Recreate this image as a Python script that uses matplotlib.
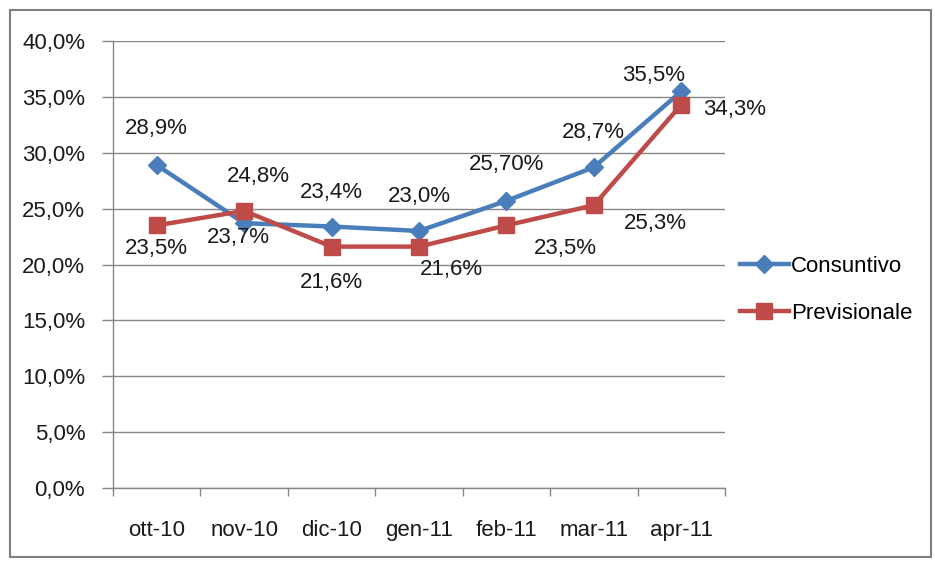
import matplotlib
matplotlib.use("Agg")
import matplotlib.pyplot as plt
from matplotlib.patches import Rectangle
from matplotlib.ticker import FuncFormatter, FixedLocator

plt.rcParams['font.family'] = ['Liberation Sans', 'DejaVu Sans']

# Data
months = ['ott-10', 'nov-10', 'dic-10', 'gen-11', 'feb-11', 'mar-11', 'apr-11']
consuntivo = [28.9, 23.7, 23.4, 23.0, 25.7, 28.7, 35.5]
previsionale = [23.5, 24.8, 21.6, 21.6, 23.5, 25.3, 34.3]
cons_labels = ['28,9%', '23,7%', '23,4%', '23,0%', '25,70%', '28,7%', '35,5%']
prev_labels = ['23,5%', '24,8%', '21,6%', '21,6%', '23,5%', '25,3%', '34,3%']

# label offsets in pixels (dx, dy), Excel-style placement
cons_off = [(0, 37), (-6, -14), (0, 34), (0, 34), (0, 36), (0, 35), (-28, 16)]
prev_off = [(0, -23), (14, 34), (0, -36), (32, -23), (59, -23), (62, -18), (53, -5)]

blue = '#4A7EBB'
red = '#BE4B48'
grid_c = '#868686'
text_c = '#1a1a1a'
fs = 16

fig = plt.figure(figsize=(9.35, 5.65), dpi=100)
ax = fig.add_axes([113 / 935, 1 - 488 / 565, (725 - 113) / 935, (488 - 41) / 565])

x = list(range(len(months)))
ax.plot(x, consuntivo, color=blue, lw=3.2, marker='D', ms=9, mfc=blue, mec=blue,
        label='Consuntivo', zorder=4)
ax.plot(x, previsionale, color=red, lw=3.2, marker='s', ms=12, mfc=red, mec=red,
        label='Previsionale', zorder=5)

for xi, v, t, (dx, dy) in zip(x, consuntivo, cons_labels, cons_off):
    ax.annotate(t, (xi, v), xytext=(dx, dy), textcoords='offset pixels',
                ha='center', va='center', fontsize=fs, color=text_c, zorder=6)
for xi, v, t, (dx, dy) in zip(x, previsionale, prev_labels, prev_off):
    ax.annotate(t, (xi, v), xytext=(dx, dy), textcoords='offset pixels',
                ha='center', va='center', fontsize=fs, color=text_c, zorder=6)

ax.set_xlim(-0.5, len(months) - 0.5)
ax.set_ylim(0, 40)
ax.set_yticks([0, 5, 10, 15, 20, 25, 30, 35, 40])
ax.yaxis.set_major_formatter(FuncFormatter(lambda v, p: f'{v:.1f}%'.replace('.', ',')))
ax.set_xticks(x)
ax.set_xticklabels(months)
ax.xaxis.set_minor_locator(FixedLocator([i - 0.5 for i in range(len(months) + 1)]))

ax.tick_params(axis='x', which='major', length=0, pad=23, labelsize=fs, labelcolor=text_c)
ax.tick_params(axis='x', which='minor', length=6, width=1, color=grid_c, direction='out')
ax.tick_params(axis='y', length=8, width=1, color=grid_c, pad=12, labelsize=fs,
               labelcolor=text_c)

ax.grid(axis='y', color=grid_c, lw=1)
ax.set_axisbelow(True)
for s in ['top', 'right']:
    ax.spines[s].set_visible(False)
for s in ['left', 'bottom']:
    ax.spines[s].set_color(grid_c)
    ax.spines[s].set_linewidth(1)

ax.legend(loc='center left', bbox_to_anchor=(720 / 935, 1 - 290 / 565),
          bbox_transform=fig.transFigure, frameon=False, fontsize=fs,
          handlelength=2.2, handletextpad=0.1, labelspacing=1.15)

# outer chart border
fig.patches.append(Rectangle((10 / 935, 1 - 557 / 565), 921 / 935, 547 / 565,
                             transform=fig.transFigure, fill=False,
                             edgecolor='#808080', lw=1.5))

fig.savefig('out.png', dpi=100)
